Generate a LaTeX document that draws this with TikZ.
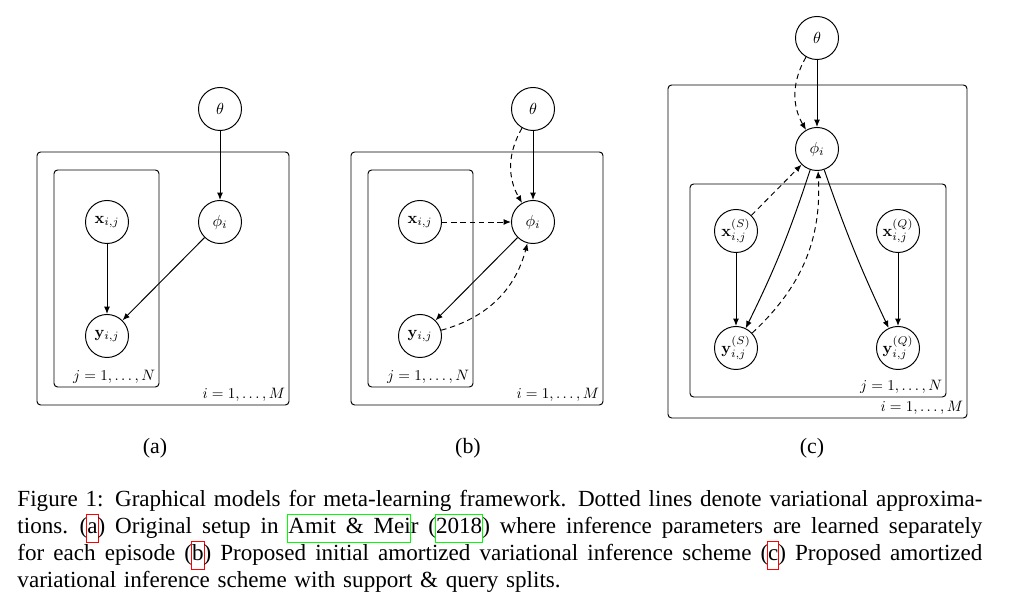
\documentclass[tikz,border=0pt]{standalone}
\usepackage{amsmath}
\usepackage{amssymb}
\usepackage{graphicx}
\usepackage[no-math]{fontspec}
\setmainfont{Liberation Serif}
\usepackage{tikz}
\usetikzlibrary{arrows.meta}
\definecolor{linkred}{rgb}{1,0,0}
\definecolor{linkgreen}{rgb}{0,1,0}
\setlength{\fboxsep}{0pt}
\newcommand{\linkbox}[2]{\rlap{\kern-0.4pt\smash{\textcolor{#1}{\fbox{\strut\phantom{#2}}}}}#2}
\newcommand{\capline}[1]{\makebox[397pt][s]{\spaceskip=0.25em plus 0.4em minus 0.08em\relax #1}}
\newcommand{\platerange}[2]{\scalebox{0.62}{$#1=1,\ldots,#2$}}
\newcommand{\rv}[1]{\scalebox{0.66}{$#1$}}

\begin{document}
\begin{tikzpicture}[x=0.4114pt, y=0.4114pt,
    >={Latex[length=3pt,width=2.4pt]},
    latent/.style={circle, draw, minimum size=17.7pt, inner sep=0pt, font=\normalsize},
    plate/.style={draw, rounded corners=1.5pt},
    platelabel/.style={anchor=south east, inner sep=1.4pt, font=\normalsize},
    approx/.style={dash pattern=on 2.2pt off 1.6pt},
    sublabel/.style={font=\fontsize{9}{10}\selectfont},
    captext/.style={anchor=north west, inner sep=0pt, text width=397pt, align=left, font=\fontsize{9.5}{11.1}\selectfont}]
\useasboundingbox (0,0) rectangle (1016,606);

% (a)
\draw[plate] (37,454) rectangle (289,201);
\draw[plate] (54,436) rectangle (159,219);
\node[latent] (thetaA) at (220,497) {\rv{\theta}};
\node[latent] (phiA) at (220,384) {\rv{\phi_i}};
\node[latent] (xA) at (107,384) {\rv{\mathbf{x}_{i,j}}};
\node[latent] (yA) at (107,270) {\rv{\mathbf{y}_{i,j}}};
\node[platelabel] (lblMa) at (289,201) {\platerange{i}{M}};
\node[platelabel] (lblNa) at (159,219) {\platerange{j}{N}};
\draw[->] (thetaA) -- (phiA);
\draw[->] (xA) -- (yA);
\draw[->] (phiA) -- (yA);
\node[sublabel] (capA) at (155,158) {(a)};

% (b)
\draw[plate] (351,454) rectangle (603,201);
\draw[plate] (368,436) rectangle (473,219);
\node[latent] (thetaB) at (533,497) {\rv{\theta}};
\node[latent] (phiB) at (533,384) {\rv{\phi_i}};
\node[latent] (xB) at (420,384) {\rv{\mathbf{x}_{i,j}}};
\node[latent] (yB) at (420,270) {\rv{\mathbf{y}_{i,j}}};
\node[platelabel] (lblMb) at (603,201) {\platerange{i}{M}};
\node[platelabel] (lblNb) at (473,219) {\platerange{j}{N}};
\draw[->] (thetaB) -- (phiB);
\draw[->, approx] (thetaB) to[bend right=30] (phiB);
\draw[->, approx] (xB) -- (phiB);
\draw[->] (phiB) -- (yB);
\draw[->, approx] (yB) to[bend right=30] (phiB);
\node[sublabel] (capB) at (468,158) {(b)};

% (c)
\draw[plate] (668,521) rectangle (967,188);
\draw[plate] (690,422) rectangle (946,209);
\node[latent] (thetaC) at (817,568) {\rv{\theta}};
\node[latent] (phiC) at (817,457) {\rv{\phi_i}};
\node[latent] (xS) at (736,375) {\rv{\mathbf{x}^{(S)}_{i,j}}};
\node[latent] (yS) at (736,258) {\rv{\mathbf{y}^{(S)}_{i,j}}};
\node[latent] (xQ) at (898,375) {\rv{\mathbf{x}^{(Q)}_{i,j}}};
\node[latent] (yQ) at (898,258) {\rv{\mathbf{y}^{(Q)}_{i,j}}};
\node[platelabel] (lblMc) at (967,188) {\platerange{i}{M}};
\node[platelabel] (lblNc) at (946,209) {\platerange{j}{N}};
\draw[->] (thetaC) -- (phiC);
\draw[->, approx] (thetaC) to[bend right=30] (phiC);
\draw[->, approx] (xS) -- (phiC);
\draw[->] (xS) -- (yS);
\draw[->] (xQ) -- (yQ);
\draw[->] (phiC) to[bend left=4] (yS);
\draw[->] (phiC) to[bend right=3] (yQ);
\draw[->, approx] (yS) to[bend right=25] (phiC);
\node[sublabel] (capC) at (812,158) {(c)};

% caption
\node[captext] (caption) at (17,116) {\capline{Figure 1: Graphical models for meta-learning framework. Dotted lines denote variational approxima-}\\
\capline{tions. (\linkbox{linkred}{a}) Original setup in \linkbox{linkgreen}{Amit \& Meir} (\linkbox{linkgreen}{2018}) where inference parameters are learned separately}\\
\capline{for each episode (\linkbox{linkred}{b}) Proposed initial amortized variational inference scheme (\linkbox{linkred}{c}) Proposed amortized}\\
variational inference scheme with support \& query splits.};
\end{tikzpicture}
\end{document}
